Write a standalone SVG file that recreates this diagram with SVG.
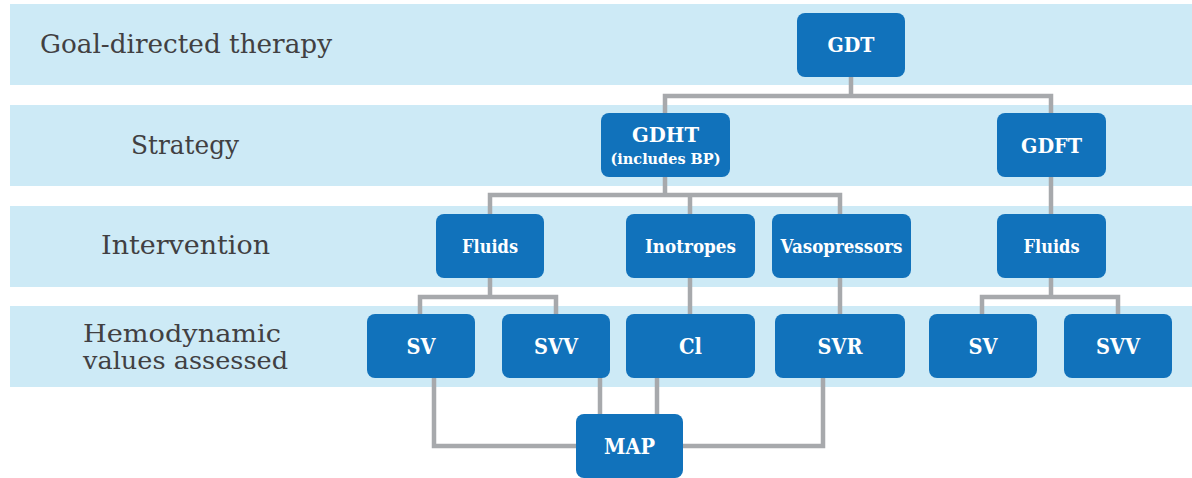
<svg xmlns="http://www.w3.org/2000/svg" width="1192" height="478" viewBox="0 0 1192 478">
  <style>
    .band { fill: #cdeaf6; }
    .row-label { font-family: "DejaVu Serif", "Liberation Serif", serif; font-size: 26.5px; fill: #414042; }
    .row-label.two-line { font-size: 24px; }
    .box { fill: #1172bb; }
    .txt { font-family: "DejaVu Serif", "Liberation Serif", serif; font-weight: bold; fill: #ffffff; text-anchor: middle; }
    .t-top { font-size: 20px; }
    .t-sub { font-size: 15px; }
    .t-mid { font-size: 18px; }
    .t-low { font-size: 22px; }
    .link { fill: none; stroke: #a7a9ac; stroke-width: 4.5; stroke-linecap: butt; stroke-linejoin: miter; }
  </style>

  <!-- horizontal level bands -->
  <g id="bands">
    <rect class="band" x="10" y="4" width="1182" height="81"/>
    <rect class="band" x="10" y="105" width="1182" height="81"/>
    <rect class="band" x="10" y="206" width="1182" height="81"/>
    <rect class="band" x="10" y="306" width="1182" height="81"/>
  </g>

  <!-- level names -->
  <g id="row-labels">
    <text class="row-label" x="40" y="53" textLength="292" lengthAdjust="spacingAndGlyphs">Goal-directed therapy</text>
    <text class="row-label" x="131" y="154" textLength="108" lengthAdjust="spacingAndGlyphs">Strategy</text>
    <text class="row-label" x="101" y="254" textLength="169" lengthAdjust="spacingAndGlyphs">Intervention</text>
    <text class="row-label two-line" x="83" y="342" textLength="198" lengthAdjust="spacingAndGlyphs">Hemodynamic</text>
    <text class="row-label two-line" x="83" y="369" textLength="205" lengthAdjust="spacingAndGlyphs">values assessed</text>
  </g>

  <!-- connectors -->
  <g id="connectors">
    <path class="link" d="M851 77 V96 M665 113 V96 H1051 V113"/>
    <path class="link" d="M665 177 V195 M490 214 V195 H840 V214 M690 195 V214"/>
    <path class="link" d="M1051 177 V214"/>
    <path class="link" d="M490 278 V297 M420 314 V297 H556 V314"/>
    <path class="link" d="M690 278 V314"/>
    <path class="link" d="M840 278 V314"/>
    <path class="link" d="M1051 278 V297 M982 314 V297 H1118 V314"/>
    <path class="link" d="M434 378 V446 H576"/>
    <path class="link" d="M600 378 V414"/>
    <path class="link" d="M657 378 V414"/>
    <path class="link" d="M823 378 V446 H683"/>
  </g>

  <!-- nodes -->
  <g id="node-gdt">
    <rect class="box" x="797" y="13" width="108" height="64" rx="8"/>
    <text class="txt t-top" x="851" y="52" textLength="47" lengthAdjust="spacingAndGlyphs">GDT</text>
  </g>
  <g id="node-gdht">
    <rect class="box" x="601" y="113" width="129" height="64" rx="8"/>
    <text class="txt t-top" x="665.5" y="142" textLength="67" lengthAdjust="spacingAndGlyphs">GDHT</text>
    <text class="txt t-sub" x="665.5" y="164" textLength="110" lengthAdjust="spacingAndGlyphs">(includes BP)</text>
  </g>
  <g id="node-gdft">
    <rect class="box" x="997" y="113" width="109" height="64" rx="8"/>
    <text class="txt t-top" x="1051.5" y="152.5" textLength="61" lengthAdjust="spacingAndGlyphs">GDFT</text>
  </g>
  <g id="node-fluids-h">
    <rect class="box" x="436" y="214" width="108" height="64" rx="8"/>
    <text class="txt t-mid" x="490" y="253" textLength="56" lengthAdjust="spacingAndGlyphs">Fluids</text>
  </g>
  <g id="node-inotropes">
    <rect class="box" x="626" y="214" width="129" height="64" rx="8"/>
    <text class="txt t-mid" x="690.5" y="253" textLength="91" lengthAdjust="spacingAndGlyphs">Inotropes</text>
  </g>
  <g id="node-vasopressors">
    <rect class="box" x="772" y="214" width="139" height="64" rx="8"/>
    <text class="txt t-mid" x="841.5" y="253" textLength="122" lengthAdjust="spacingAndGlyphs">Vasopressors</text>
  </g>
  <g id="node-fluids-f">
    <rect class="box" x="997" y="214" width="109" height="64" rx="8"/>
    <text class="txt t-mid" x="1051.5" y="253" textLength="56" lengthAdjust="spacingAndGlyphs">Fluids</text>
  </g>
  <g id="node-sv-h">
    <rect class="box" x="367" y="314" width="108" height="64" rx="8"/>
    <text class="txt t-low" x="421" y="354" textLength="29" lengthAdjust="spacingAndGlyphs">SV</text>
  </g>
  <g id="node-svv-h">
    <rect class="box" x="502" y="314" width="108" height="64" rx="8"/>
    <text class="txt t-low" x="556" y="354" textLength="44" lengthAdjust="spacingAndGlyphs">SVV</text>
  </g>
  <g id="node-ci">
    <rect class="box" x="626" y="314" width="129" height="64" rx="8"/>
    <text class="txt t-low" x="690.5" y="354" textLength="23" lengthAdjust="spacingAndGlyphs">Cl</text>
  </g>
  <g id="node-svr">
    <rect class="box" x="775" y="314" width="130" height="64" rx="8"/>
    <text class="txt t-low" x="840" y="354" textLength="45" lengthAdjust="spacingAndGlyphs">SVR</text>
  </g>
  <g id="node-sv-f">
    <rect class="box" x="929" y="314" width="108" height="64" rx="8"/>
    <text class="txt t-low" x="983" y="354" textLength="29" lengthAdjust="spacingAndGlyphs">SV</text>
  </g>
  <g id="node-svv-f">
    <rect class="box" x="1064" y="314" width="108" height="64" rx="8"/>
    <text class="txt t-low" x="1118" y="354" textLength="44" lengthAdjust="spacingAndGlyphs">SVV</text>
  </g>
  <g id="node-map">
    <rect class="box" x="576" y="414" width="107" height="64" rx="8"/>
    <text class="txt t-low" x="629.5" y="454" textLength="51" lengthAdjust="spacingAndGlyphs">MAP</text>
  </g>
</svg>
